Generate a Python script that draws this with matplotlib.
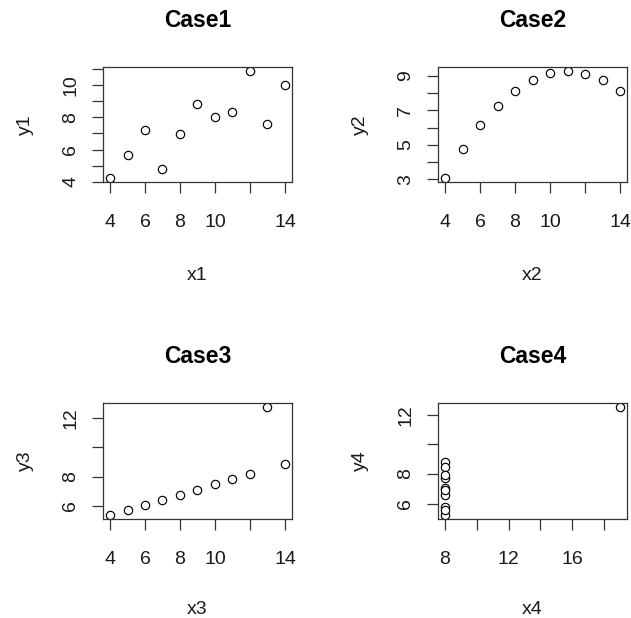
import matplotlib
matplotlib.use("Agg")
import matplotlib.pyplot as plt
import numpy as np

plt.rcParams['font.family'] = ['Liberation Sans', 'DejaVu Sans']

# Anscombe's quartet
x1 = [10, 8, 13, 9, 11, 14, 6, 4, 12, 7, 5]
y1 = [8.04, 6.95, 7.58, 8.81, 8.33, 9.96, 7.24, 4.26, 10.84, 4.82, 5.68]
x2 = [10, 8, 13, 9, 11, 14, 6, 4, 12, 7, 5]
y2 = [9.14, 8.14, 8.74, 8.77, 9.26, 8.10, 6.13, 3.10, 9.13, 7.26, 4.74]
x3 = [10, 8, 13, 9, 11, 14, 6, 4, 12, 7, 5]
y3 = [7.46, 6.77, 12.74, 7.11, 7.81, 8.84, 6.08, 5.39, 8.15, 6.42, 5.73]
x4 = [8, 8, 8, 8, 8, 8, 8, 19, 8, 8, 8]
y4 = [6.58, 5.76, 7.71, 8.84, 8.47, 7.04, 5.25, 12.50, 5.56, 7.91, 6.89]

titles = ["Case1", "Case2", "Case3", "Case4"]
xnames = ["x1", "x2", "x3", "x4"]
ynames = ["y1", "y2", "y3", "y4"]

# ticks (all drawn) and which of them carry labels
xticks = [[4, 6, 8, 10, 12, 14], [4, 6, 8, 10, 12, 14], [4, 6, 8, 10, 12, 14], [8, 10, 12, 14, 16, 18]]
xlabeled = [[4, 6, 8, 10, 14], [4, 6, 8, 10, 14], [4, 6, 8, 10, 14], [8, 12, 16]]
yticks = [[4, 5, 6, 7, 8, 9, 10, 11], [3, 4, 5, 6, 7, 8, 9], [6, 8, 10, 12], [6, 8, 10, 12]]
ylabeled = [[4, 6, 8, 10], [3, 5, 7, 9], [6, 8, 12], [6, 8, 12]]

xs = [x1, x2, x3, x4]
ys = [y1, y2, y3, y4]

W, H = 631, 618
fig = plt.figure(figsize=(W / 100, H / 100), dpi=100)

# box pixel positions (left, top, right, bottom)
boxes = [(103, 67, 292, 182), (438, 67, 627, 182), (103, 403, 292, 519), (438, 403, 627, 519)]
xlab_gap = [85, 85, 82, 82]

edge = '#333333'
txt = '#1a1a1a'
for i in range(4):
    l, t, r, b = boxes[i]
    ax = fig.add_axes([l / W, 1 - b / H, (r - l) / W, (b - t) / H])
    x = np.array(xs[i], dtype=float)
    y = np.array(ys[i], dtype=float)
    ax.plot(x, y, linestyle='none', marker='o', markersize=6.0,
            markerfacecolor='white', markeredgecolor='black', markeredgewidth=0.85)
    dx = (x.max() - x.min()) * 0.04
    dy = (y.max() - y.min()) * 0.04
    ax.set_xlim(x.min() - dx, x.max() + dx)
    ax.set_ylim(y.min() - dy, y.max() + dy)
    ax.set_xticks(xticks[i])
    ax.set_xticklabels([str(v) if v in xlabeled[i] else '' for v in xticks[i]])
    ax.set_yticks(yticks[i])
    ax.set_yticklabels([str(v) if v in ylabeled[i] else '' for v in yticks[i]],
                       rotation=90, va='center')
    ax.tick_params(direction='out', length=8, width=0.9, color=edge,
                   labelsize=14, labelcolor=txt)
    ax.tick_params(axis='x', pad=15)
    ax.tick_params(axis='y', pad=9)
    for s in ax.spines.values():
        s.set_linewidth(0.9)
        s.set_color(edge)
    ax.set_title(titles[i], fontsize=16.5, fontweight='bold', pad=29)
    ax.set_xlabel(xnames[i], fontsize=14, color=txt)
    ax.set_ylabel(ynames[i], fontsize=14, color=txt)
    ax.xaxis.set_label_coords(0.5, -xlab_gap[i] / (b - t))
    ax.yaxis.set_label_coords((34 - 103) / (r - l), 0.5)

fig.savefig('out.png', dpi=100, facecolor='white')
